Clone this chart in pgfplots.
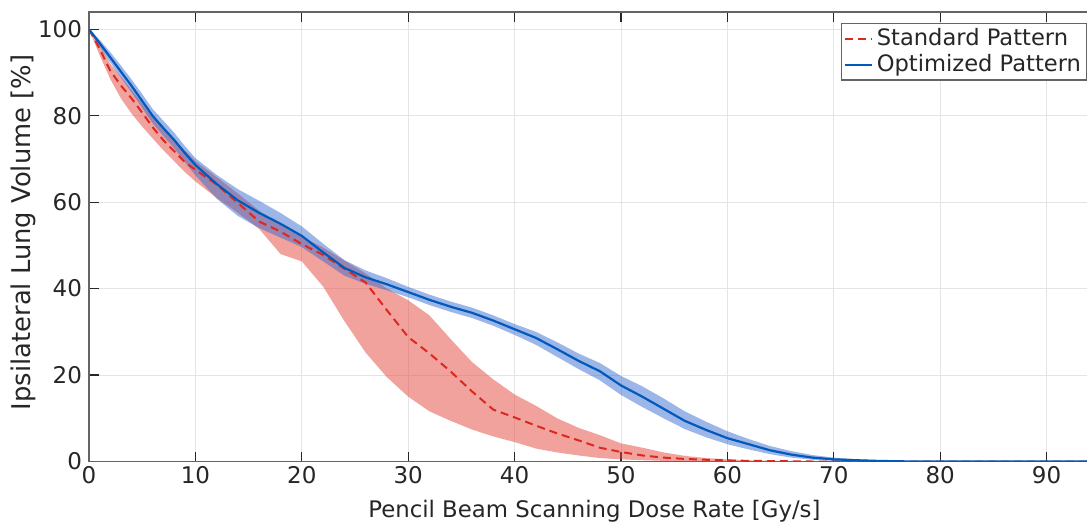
\documentclass[border=0pt]{standalone}
\usepackage{fontspec}
\setmainfont{DejaVu Sans}
\usepackage{pgfplots}
\pgfplotsset{compat=1.18}
\usepgfplotslibrary{fillbetween}
\usepackage{pgfplotstable}

\definecolor{redline}{RGB}{220,40,30}
\definecolor{blueline}{RGB}{0,90,190}
\definecolor{redband}{RGB}{230,70,60}
\definecolor{blueband}{RGB}{45,100,205}
\definecolor{gridgray}{RGB}{228,228,228}
\definecolor{axgray}{RGB}{100,100,100}
\definecolor{txt}{RGB}{38,38,38}

% x, standard mean/low/high, optimized mean/low/high
\pgfplotstableread{
x   smean slo   shi   omean olo   ohi
0   100   100   100   100   100   100
1   95.5  94.0  96.5  96.8  96.0  97.6
2   90.4  88.5  92.0  93.5  92.3  94.7
3   87.0  84.0  89.0  90.2  88.8  91.6
4   84.0  80.5  86.0  86.9  85.4  88.4
5   80.7  77.5  82.8  83.4  81.8  85.0
6   77.3  74.7  79.5  79.9  78.2  81.5
7   74.3  72.0  76.8  77.1  75.3  78.8
8   71.8  69.5  74.5  74.4  72.5  76.1
9   69.3  67.0  72.0  71.4  69.3  73.0
10  67.5  64.8  69.5  68.6  66.2  70.2
12  64.1  61.0  65.8  64.2  60.8  66.3
14  59.8  57.5  62.0  60.4  56.8  63.0
16  55.5  53.8  58.0  57.5  54.0  60.3
18  53.2  48.0  55.0  55.0  51.8  57.5
20  50.3  46.3  52.0  52.2  49.6  54.4
22  47.8  40.5  49.5  48.4  46.3  50.4
24  44.6  32.5  46.5  44.8  43.0  46.6
26  41.4  25.2  43.5  42.6  41.1  44.2
28  35.0  19.5  40.0  41.0  39.6  42.4
30  28.8  15.0  37.3  39.2  38.0  40.4
32  25.0  11.6  33.8  37.4  36.2  38.6
34  20.8  9.4   28.3  35.8  34.6  37.0
36  16.2  7.4   23.0  34.4  33.2  35.6
38  12.0  5.8   19.0  32.6  31.4  33.8
40  10.2  4.5   15.5  30.6  29.3  31.8
42  8.3   3.0   12.9  28.6  27.0  30.0
44  6.5   2.1   10.0  26.0  24.2  27.6
46  4.9   1.4   7.8   23.3  21.4  25.0
48  3.2   0.8   6.1   20.9  18.8  22.8
50  2.2   0.5   4.2   17.6  15.4  19.8
52  1.4   0.3   3.2   15.0  12.6  17.4
54  0.9   0.15  2.1   12.2  10.0  14.6
56  0.6   0.05  1.3   9.4   7.5   11.6
58  0.4   0     0.8   7.3   5.6   9.2
60  0.25  0     0.5   5.4   4.0   7.0
62  0.15  0     0.3   4.0   2.8   5.2
64  0.1   0     0.15  2.6   1.7   3.6
66  0.05  0     0.05  1.6   0.9   2.4
68  0     0     0     0.9   0.4   1.5
70  0     0     0     0.5   0.15  0.9
72  0     0     0     0.3   0.05  0.55
74  0     0     0     0.15  0     0.3
76  0     0     0     0.05  0     0.15
78  0     0     0     0     0     0.05
80  0     0     0     0     0     0
95  0     0     0     0     0     0
}\dvh

\begin{document}
\begin{tikzpicture}
\begin{axis}[
  scale only axis, width=505.4pt, height=224.75pt,
  xmin=0, xmax=95, ymin=0, ymax=104,
  xtick={0,10,...,90}, ytick={0,20,...,100},
  tick align=inside, major tick length=5pt,
  grid=major, grid style={line width=0.5pt, color=gridgray},
  axis line style={line width=0.6pt, color=axgray},
  tick style={line width=0.6pt, color=txt},
  ticklabel style={font=\fontsize{11.5}{13}\selectfont, text=txt},
  xticklabel style={yshift=1pt},
  /pgf/number format/assume math mode=true,
  xlabel={Pencil Beam Scanning Dose Rate [Gy/s]},
  ylabel={Ipsilateral Lung Volume [\%]},
  xlabel style={font=\fontsize{11.4}{13}\selectfont, text=txt,
    at={(axis description cs:0.5,-0.1235)}, anchor=base},
  ylabel style={font=\fontsize{12.9}{15}\selectfont, text=txt,
    at={(axis description cs:-0.0574,0.5095)}, anchor=base},
  legend style={at={(axis description cs:0.744,0.9755)}, anchor=north west,
    draw=axgray, line width=0.6pt, inner xsep=1pt, inner ysep=1pt,
    font=\fontsize{11.3}{13}\selectfont, text=txt,
    nodes={inner xsep=2pt, inner ysep=1.5pt}},
  legend cell align=left,
  legend image code/.code={\draw[#1] (0pt,0pt) -- (13.5pt,0pt);},
]
\addplot[draw=none, name path=slo, forget plot] table[x=x, y=slo] {\dvh};
\addplot[draw=none, name path=shi, forget plot] table[x=x, y=shi] {\dvh};
\addplot[fill=redband, fill opacity=0.5, draw=none, forget plot] fill between[of=shi and slo];
\addplot[redline, line width=1pt, dash pattern=on 4pt off 2.5pt] table[x=x, y=smean] {\dvh};
\addlegendentry{Standard Pattern}
\addplot[draw=none, name path=olo, forget plot] table[x=x, y=olo] {\dvh};
\addplot[draw=none, name path=ohi, forget plot] table[x=x, y=ohi] {\dvh};
\addplot[fill=blueband, fill opacity=0.47, draw=none, forget plot] fill between[of=ohi and olo];
\addplot[blueline, line width=1.1pt] table[x=x, y=omean] {\dvh};
\addlegendentry{Optimized Pattern}
\coordinate (ll) at (rel axis cs:0,0);
\coordinate (tl) at (rel axis cs:0,1);
\end{axis}
\pgfresetboundingbox
\useasboundingbox ([xshift=-44.5pt,yshift=-29.75pt]ll) rectangle ([xshift=499pt,yshift=6pt]tl);
\end{tikzpicture}
\end{document}
